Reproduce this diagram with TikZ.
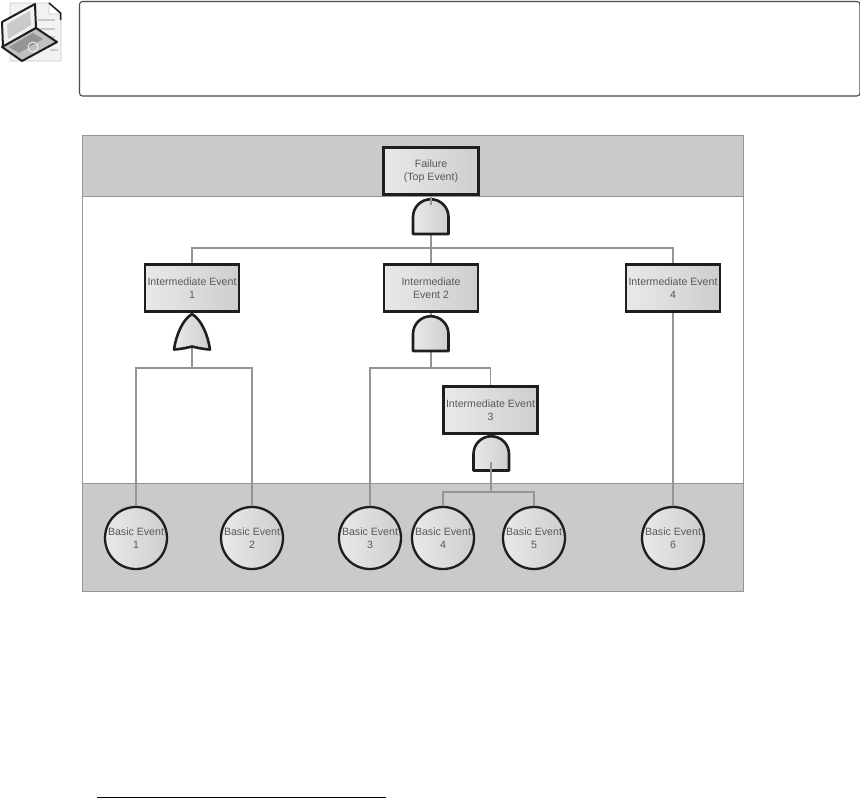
\documentclass[tikz,border=0pt]{standalone}
\usepackage{fontspec}
\setmainfont{Liberation Sans}
\definecolor{band}{HTML}{C9CACC}
\definecolor{rulegrey}{HTML}{949597}
\definecolor{inkgrey}{HTML}{58595B}
\definecolor{edge}{HTML}{1E1E1E}
\definecolor{shadelight}{HTML}{E8E9EA}
\definecolor{shadedark}{HTML}{CDCED0}
\tikzset{
  evbox/.style={draw=edge,line width=2.7pt,minimum width=94pt,minimum height=47pt,inner sep=0pt,
    left color=shadelight,right color=shadedark,text=inkgrey,font=\fontsize{10.6}{13}\selectfont,align=center},
  evcirc/.style={circle,draw=edge,line width=2.3pt,minimum size=62pt,inner sep=0pt,
    left color=shadelight,right color=shadedark,text=inkgrey,font=\fontsize{10.6}{13}\selectfont,align=center},
  conn/.style={draw=rulegrey,line width=1.3pt},
  gateshape/.style={draw=edge,line width=2.6pt,left color=shadelight,right color=shadedark,line join=round},
  frameline/.style={draw=rulegrey,line width=1pt},
}
\begin{document}
\begin{tikzpicture}[x=1pt,y=-1pt]
\useasboundingbox (0,0) rectangle (860,798);
% note icon
\fill[shadelight!60!white,draw=band,line width=.8pt] (10,3)--(49,3)--(61,13)--(61,61)--(10,61)--cycle;
\fill[white,draw=band,line width=.8pt] (49,3)--(49,14)--(61,14)--cycle;
\draw[band,line width=1.8pt] (38,20)--(55,20) (38,29)--(55,29) (45,37)--(55,37) (50,50)--(58,50);
\draw[edge,line width=1.5pt] (49,3)--(60.5,13)--(60.5,20);
\fill[shadelight!70!white,draw=edge,line width=2pt,line join=round] (2,22)--(35,4)--(36,28)--(3,47)--cycle;
\fill[band] (7,24)--(30,11)--(31,25)--(8,39)--cycle;
\fill[rulegrey!60,draw=edge,line width=2pt,line join=round] (2,47)--(36,28)--(57,42)--(22,61)--cycle;
\fill[rulegrey] (9,47)--(33,33)--(43,39)--(19,53)--cycle;
\draw[white!85!band,line width=.8pt] (33,47) circle (5);
% note frame
\draw[edge!80,line width=1.1pt,rounded corners=3pt] (79.5,1.5) rectangle (860,96);
% bands
\fill[band] (82,135) rectangle (743,196);
\fill[band] (82,483) rectangle (743,591);
\draw[frameline] (82,135) rectangle (743,591);
\draw[frameline] (82,196)--(743,196);
\draw[frameline] (82,483)--(743,483);
% junctions
\coordinate (j0) at (431,248);
\coordinate (j1) at (192,368);
\coordinate (j2) at (431,368);
\coordinate (j3) at (491,492);
\coordinate (g3out) at (491,462);
\coordinate (g0in) at (431,205);
% nodes
\node[evbox,minimum width=95pt] (top) at (431,171) {Failure\\(Top Event)};
\node[evbox] (ie1) at (192,288) {Intermediate Event\\1};
\node[evbox] (ie2) at (431,288) {Intermediate\\Event 2};
\node[evbox] (ie4) at (673,288) {Intermediate Event\\4};
\node[evbox] (ie3) at (490.5,410) {Intermediate Event\\3};
\node[evcirc] (b1) at (136,538) {Basic Event\\1};
\node[evcirc] (b2) at (252,538) {Basic Event\\2};
\node[evcirc] (b3) at (370,538) {Basic Event\\3};
\node[evcirc] (b4) at (443,538) {Basic Event\\4};
\node[evcirc] (b5) at (534,538) {Basic Event\\5};
\node[evcirc] (b6) at (673,538) {Basic Event\\6};
% connectors
\draw[conn] (top.south) -- (j0);
\draw[conn] (j0) -- (ie2.north);
\draw[conn] (j0) -| (ie1.north);
\draw[conn] (j0) -| (ie4.north);
\draw[conn] (ie4.south) -- (b6.north);
\draw[conn] (ie1.south) -- (j1);
\draw[conn] (j1) -| (b1.north);
\draw[conn] (j1) -| (b2.north);
\draw[conn] (ie2.south) -- (j2);
\draw[conn] (j2) -| (b3.north);
\draw[conn] (j2) -| (ie3.north);
\draw[conn] (ie3.south) -- (j3);
\draw[conn] (j3) -| (b4.north);
\draw[conn] (j3) -| (b5.north);
% gates
\path[gateshape] (413,234)--(413,217) arc[start angle=180,end angle=360,radius=17.75]--(448.5,234)--cycle;
\path[gateshape] (413,351)--(413,334) arc[start angle=180,end angle=360,radius=17.75]--(448.5,351)--cycle;
\path[gateshape] (473.5,470.5)--(473.5,454) arc[start angle=180,end angle=360,radius=17.75]--(509,470.5)--cycle;
\draw[conn] (top.south) -- (g0in);
\draw[conn] (g3out) -- (j3);
\path[gateshape] (192,314) .. controls (182,320) and (176,336) .. (174,349.5)
  .. controls (182,349) and (188,347.5) .. (192,346.5)
  .. controls (196,347.5) and (202,349) .. (210,349.5)
  .. controls (208,336) and (202,320) .. (192,314) -- cycle;
% footnote rule
\draw[black,line width=1pt] (97,797)--(386,797);
\end{tikzpicture}
\end{document}
